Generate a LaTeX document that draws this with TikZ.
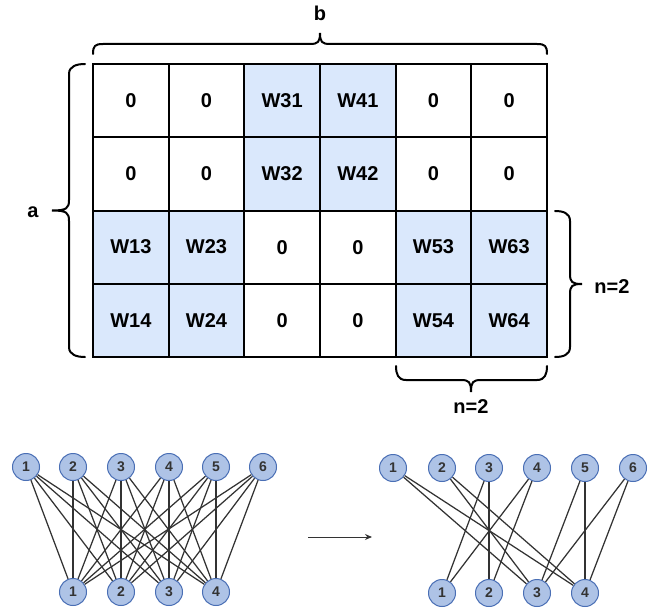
\documentclass[tikz,border=0pt]{standalone}
\usepackage{fontspec}
\setmainfont{Liberation Sans}
\usetikzlibrary{arrows.meta}
\definecolor{cellblue}{HTML}{DAE8FC}
\definecolor{circfill}{HTML}{AEC3E6}
\definecolor{circline}{HTML}{4A6FB5}
\definecolor{edgecol}{HTML}{333333}
\tikzset{
  cell/.style={draw=black, line width=2pt, minimum width=75.67pt, minimum height=73.25pt, inner sep=0pt, font=\fontsize{20}{23}\selectfont\bfseries},
  wcell/.style={cell, fill=white},
  bcell/.style={cell, fill=cellblue},
  brace/.style={draw=black, line width=2pt, line cap=round},
  lbl/.style={font=\fontsize{20}{23}\selectfont\bfseries, inner sep=0pt},
  vnode/.style={circle, draw=circline, fill=circfill, line width=1pt, minimum size=27pt, inner sep=0pt, text=edgecol, font=\fontsize{14}{16}\selectfont\bfseries},
  edge/.style={draw=edgecol, line width=1.25pt},
}
\begin{document}
\begin{tikzpicture}[x=1pt,y=-1pt]
\useasboundingbox (0,0) rectangle (659,610);
% grid
\def\cw{75.667}
\def\rh{73.25}
\foreach \r/\a/\b/\c/\d/\e/\f/\sa/\sb/\sc/\sd/\se/\sf in {
 1/0/0/W31/W41/0/0/wcell/wcell/bcell/bcell/wcell/wcell,
 2/0/0/W32/W42/0/0/wcell/wcell/bcell/bcell/wcell/wcell,
 3/W13/W23/0/0/W53/W63/bcell/bcell/wcell/wcell/bcell/bcell,
 4/W14/W24/0/0/W54/W64/bcell/bcell/wcell/wcell/bcell/bcell}{
  \node[\sa] (c\r1) at ({93+0.5*\cw},{64+(\r-0.5)*\rh}) {\a};
  \node[\sb] (c\r2) at ({93+1.5*\cw},{64+(\r-0.5)*\rh}) {\b};
  \node[\sc] (c\r3) at ({93+2.5*\cw},{64+(\r-0.5)*\rh}) {\c};
  \node[\sd] (c\r4) at ({93+3.5*\cw},{64+(\r-0.5)*\rh}) {\d};
  \node[\se] (c\r5) at ({93+4.5*\cw},{64+(\r-0.5)*\rh}) {\e};
  \node[\sf] (c\r6) at ({93+5.5*\cw},{64+(\r-0.5)*\rh}) {\f};
}
% braces
\draw[brace] (93,54) .. controls (93,46) and (95,44) .. (103,44) -- (310,44)
  .. controls (318,44) and (320,42) .. (320,33) .. controls (320,42) and (322,44) .. (330,44)
  -- (537,44) .. controls (545,44) and (547,46) .. (547,54);
\node[lbl] (lb) at (320,13) {b};
\draw[brace] (85,64) .. controls (77,64) and (69,66) .. (69,74) -- (69,200)
  .. controls (69,208) and (67,210.5) .. (52,210.5) .. controls (67,210.5) and (69,213) .. (69,221)
  -- (69,347) .. controls (69,355) and (77,357) .. (85,357);
\node[lbl] (la) at (33,212) {a};
\draw[brace] (555,211) .. controls (563,211) and (570,213) .. (570,221) -- (570,274)
  .. controls (570,282) and (572,284) .. (582,284) .. controls (572,284) and (570,286) .. (570,294)
  -- (570,347) .. controls (570,355) and (563,357) .. (555,357);
\node[lbl] (ln1) at (612,287) {n=2};
\draw[brace] (396,366) .. controls (396,374) and (398,380) .. (406,380) -- (461,380)
  .. controls (469,380) and (471,382) .. (471,392) .. controls (471,382) and (473,380) .. (481,380)
  -- (537,380) .. controls (545,380) and (547,374) .. (547,366);
\node[lbl] (ln2) at (471,407) {n=2};
% left graph
\foreach \i/\x in {1/26,2/73,3/121,4/169,5/216,6/263}{
  \node[vnode] (lt\i) at (\x,467) {\i};
}
\foreach \i/\x in {1/73,2/121,3/169,4/216}{
  \node[vnode] (lb\i) at (\x,592) {\i};
}
\foreach \i in {1,...,6}{
  \foreach \j in {1,...,4}{
    \draw[edge] (lt\i) -- (lb\j);
  }
}
% right graph
\foreach \i/\x in {1/393,2/442,3/489,4/537,5/585,6/633}{
  \node[vnode] (rt\i) at (\x,468) {\i};
}
\foreach \i/\x in {1/442,2/489,3/537,4/585}{
  \node[vnode] (rb\i) at (\x,593) {\i};
}
\foreach \i/\j in {1/3,1/4,2/3,2/4,3/1,3/2,4/1,4/2,5/3,5/4,6/3,6/4}{
  \draw[edge] (rt\i) -- (rb\j);
}
% arrow
\coordinate (as) at (308,537);
\coordinate (ae) at (372,537);
\draw[edge, line width=1pt, -{Stealth[length=7pt,width=6pt]}] (as) -- (ae);
\end{tikzpicture}
\end{document}
